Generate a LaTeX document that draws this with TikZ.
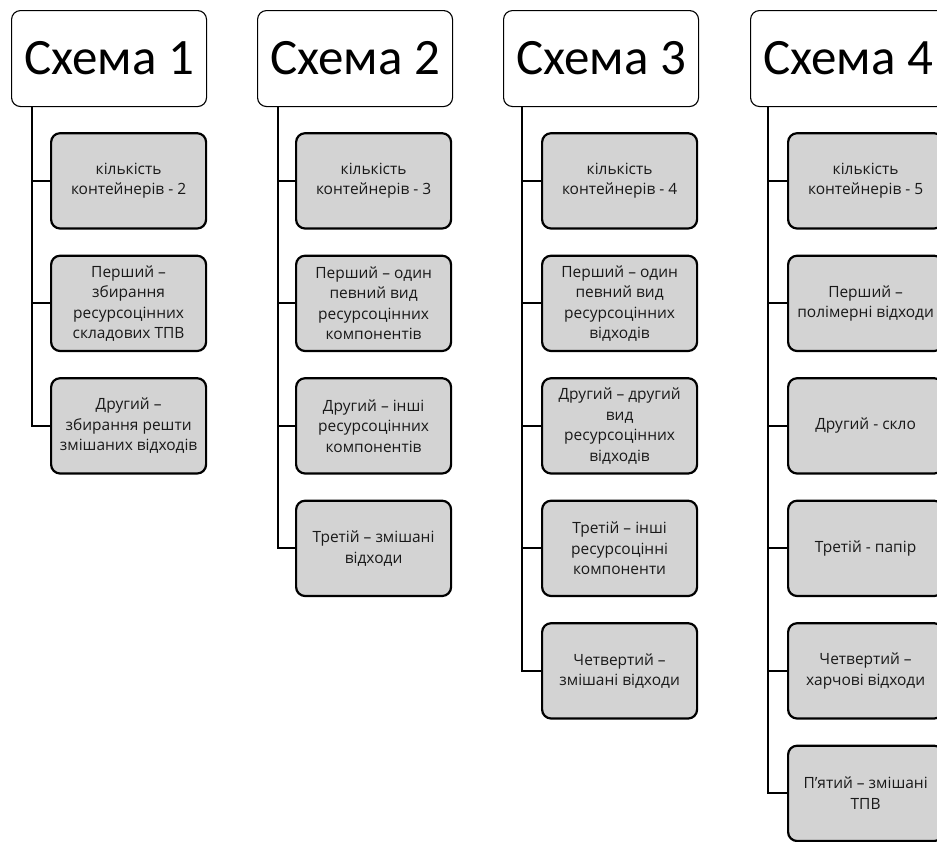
\documentclass[tikz,border=0pt]{standalone}
\usepackage{fontspec}
\setmainfont{Carlito}
\newfontfamily\itemfont{Open Sans}
\usetikzlibrary{positioning}
\definecolor{boxgray}{RGB}{211,211,211}
\tikzset{
  head/.style={draw, line width=1.1pt, rounded corners=9pt, minimum width=195pt, minimum height=96pt, inner sep=0pt, font=\fontsize{51}{60}\selectfont},
  item/.style={draw, fill=boxgray, line width=2.2pt, rounded corners=9pt, minimum width=155pt, minimum height=95.3pt, inner sep=0pt, align=center, text=black!90, font=\itemfont\fontsize{15.5}{20.5}\selectfont},
  conn/.style={line width=2pt},
}

\begin{document}
\begin{tikzpicture}[x=1pt, y=-1pt]
\useasboundingbox (0,0) rectangle (937,841);
\clip (0,0) rectangle (937,841);

% headers
\node[head, anchor=north west] (h1) at (11,10) {Схема 1};
\node[head, anchor=north west] (h2) at (257,10) {Схема 2};
\node[head, anchor=north west] (h3) at (503,10) {Схема 3};
\node[head, anchor=north west] (h4) at (750,10) {Схема 4};

% scheme 1
\node[item, below=25pt of h1.south west, anchor=north west, xshift=39pt] (c11) {кількість\\контейнерів - 2};
\node[item, below=25pt of c11] (c12) {Перший –\\збирання\\ресурсоцінних\\складових ТПВ};
\node[item, below=25pt of c12] (c13) {Другий –\\збирання решти\\змішаних відходів};

% scheme 2
\node[item, below=25pt of h2.south west, anchor=north west, xshift=38pt] (c21) {кількість\\контейнерів - 3};
\node[item, below=25pt of c21] (c22) {Перший – один\\певний вид\\ресурсоцінних\\компонентів};
\node[item, below=25pt of c22] (c23) {Другий – інші\\ресурсоцінних\\компонентів};
\node[item, below=25pt of c23] (c24) {Третій – змішані\\відходи};

% scheme 3
\node[item, below=25pt of h3.south west, anchor=north west, xshift=38pt] (c31) {кількість\\контейнерів - 4};
\node[item, below=25pt of c31] (c32) {Перший – один\\певний вид\\ресурсоцінних\\відходів};
\node[item, below=25pt of c32] (c33) {Другий – другий\\вид\\ресурсоцінних\\відходів};
\node[item, below=25pt of c33] (c34) {Третій – інші\\ресурсоцінні\\компоненти};
\node[item, below=25pt of c34] (c35) {Четвертий –\\змішані відходи};

% scheme 4
\node[item, below=25pt of h4.south west, anchor=north west, xshift=37pt] (c41) {кількість\\контейнерів - 5};
\node[item, below=25pt of c41] (c42) {Перший –\\полімерні відходи};
\node[item, below=25pt of c42] (c43) {Другий - скло};
\node[item, below=25pt of c43] (c44) {Третій - папір};
\node[item, below=25pt of c44] (c45) {Четвертий –\\харчові відходи};
\node[item, below=25pt of c45] (c46) {П’ятий – змішані\\ТПВ};

% trunks
\coordinate (t1) at ([xshift=21pt]h1.south west);
\coordinate (t2) at ([xshift=21pt]h2.south west);
\coordinate (t3) at ([xshift=19pt]h3.south west);
\coordinate (t4) at ([xshift=18pt]h4.south west);
\foreach \k in {1,...,3} \draw[conn] (t1) |- (c1\k.west);
\foreach \k in {1,...,4} \draw[conn] (t2) |- (c2\k.west);
\foreach \k in {1,...,5} \draw[conn] (t3) |- (c3\k.west);
\foreach \k in {1,...,6} \draw[conn] (t4) |- (c4\k.west);
\end{tikzpicture}
\end{document}
